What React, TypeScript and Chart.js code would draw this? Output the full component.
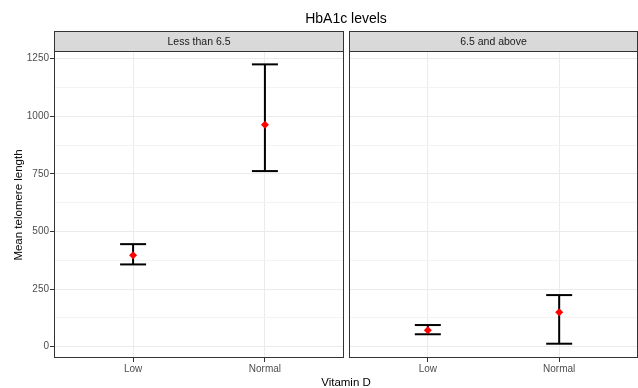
import React, { useEffect, useRef } from 'react';
import { Chart, registerables } from 'chart.js';
Chart.register(...registerables);

const FONT = "'Liberation Sans', Arial, sans-serif";

const chartTitle = 'HbA1c levels';
const panels = ['Less than 6.5', '6.5 and above'];
const categories = ['Low', 'Normal'];
const xTitle = 'Vitamin D';
const yTitle = 'Mean telomere length';

const meanLess = [397, 963];
const lowerLess = [357, 762];
const upperLess = [445, 1225];

const meanAbove = [71, 149];
const lowerAbove = [54, 13];
const upperAbove = [94, 224];

const yMajorTicks = [0, 250, 500, 750, 1000, 1250];
const yMinorTicks = [125, 375, 625, 875, 1125];
const yMin = -49;
const yMax = 1283;
const xMin = 0.4;
const xMax = 2.6;

const panelBorder = {
  id: 'panelBorder',
  afterDraw(chart: any) {
    const { ctx, chartArea: a } = chart;
    ctx.save();
    ctx.strokeStyle = '#333333';
    ctx.lineWidth = 1;
    ctx.strokeRect(a.left + 0.5, a.top + 0.5, a.right - a.left - 1, a.bottom - a.top - 1);
    ctx.restore();
  },
};

function buildConfig(means: number[], lows: number[], highs: number[], isLeft: boolean): any {
  const pts = (vals: number[]) => categories.map((_, i) => ({ x: i + 1, y: vals[i] }));
  const whisker: any[] = [];
  categories.forEach((_, i) => {
    whisker.push({ x: i + 1, y: lows[i] }, { x: i + 1, y: highs[i] }, { x: i + 1.5, y: null });
  });
  const allY = [...yMajorTicks, ...yMinorTicks].sort((a, b) => a - b);
  return {
    type: 'scatter',
    data: {
      datasets: [
        {
          label: 'mean',
          data: pts(means),
          pointStyle: 'rectRot',
          pointRadius: 4,
          pointBackgroundColor: '#FF0000',
          pointBorderColor: '#FF0000',
          pointBorderWidth: 0,
          showLine: false,
        },
        {
          label: 'upper',
          data: pts(highs),
          pointStyle: 'line',
          pointRadius: 13,
          pointBorderColor: '#000000',
          pointBorderWidth: 2,
          showLine: false,
        },
        {
          label: 'lower',
          data: pts(lows),
          pointStyle: 'line',
          pointRadius: 13,
          pointBorderColor: '#000000',
          pointBorderWidth: 2,
          showLine: false,
        },
        {
          label: 'whisker',
          type: 'line',
          data: whisker,
          showLine: true,
          spanGaps: false,
          borderColor: '#000000',
          borderWidth: 2,
          pointRadius: 0,
          fill: false,
        },
      ],
    },
    options: {
      responsive: false,
      animation: false,
      devicePixelRatio: 1,
      events: [],
      layout: {
        autoPadding: false,
        padding: isLeft
          ? { left: 0, top: 51, right: 294, bottom: 0 }
          : { left: 349, top: 51, right: 0, bottom: 0 },
      },
      plugins: { legend: { display: false }, tooltip: { enabled: false }, title: { display: false } },
      scales: {
        x: {
          type: 'linear',
          min: xMin,
          max: xMax,
          afterBuildTicks: (s: any) => {
            s.ticks = categories.map((_, i) => ({ value: i + 1 }));
          },
          afterFit: (s: any) => {
            s.height = 30;
            s.paddingLeft = 0;
            s.paddingRight = 0;
          },
          ticks: {
            callback: (v: number) => categories[Math.round(v) - 1] ?? '',
            color: '#4D4D4D',
            font: { family: FONT, size: 10 },
            padding: 1,
            maxRotation: 0,
            autoSkip: false,
          },
          grid: { color: '#EBEBEB', lineWidth: 1, tickColor: '#333333', tickLength: 4, drawTicks: true },
          border: { display: false },
        },
        y: {
          type: 'linear',
          min: yMin,
          max: yMax,
          afterBuildTicks: (s: any) => {
            s.ticks = allY.map((v) => ({ value: v }));
          },
          afterFit: (s: any) => {
            s.width = isLeft ? 54 : 0;
            s.paddingTop = 0;
            s.paddingBottom = 0;
          },
          ticks: {
            display: isLeft,
            callback: (v: number) => (yMajorTicks.includes(v) ? String(v) : ''),
            color: '#4D4D4D',
            font: { family: FONT, size: 10 },
            padding: 1,
            autoSkip: false,
          },
          grid: {
            color: (ctx: any) => (ctx.tick && yMajorTicks.includes(ctx.tick.value) ? '#EBEBEB' : '#F3F3F3'),
            lineWidth: 1,
            tickColor: (ctx: any) =>
              ctx.tick && yMajorTicks.includes(ctx.tick.value) ? '#333333' : 'rgba(0,0,0,0)',
            tickLength: 4,
            drawTicks: isLeft,
          },
          border: { display: false },
        },
      },
    },
    plugins: [panelBorder],
  };
}

export default function App() {
  const leftRef = useRef<HTMLCanvasElement>(null);
  const rightRef = useRef<HTMLCanvasElement>(null);

  useEffect(() => {
    const c1 = new Chart(leftRef.current as HTMLCanvasElement, buildConfig(meanLess, lowerLess, upperLess, true));
    const c2 = new Chart(rightRef.current as HTMLCanvasElement, buildConfig(meanAbove, lowerAbove, upperAbove, false));
    return () => {
      c1.destroy();
      c2.destroy();
    };
  }, []);

  const canvasStyle: React.CSSProperties = { position: 'absolute', left: 0, top: 0, width: 638, height: 388, display: 'block' };
  const stripStyle = (left: number, width: number): React.CSSProperties => ({
    position: 'absolute',
    left,
    top: 31,
    width,
    height: 21,
    boxSizing: 'border-box',
    border: '1px solid #333333',
    background: '#D9D9D9',
    color: '#1A1A1A',
    fontSize: 10.5,
    lineHeight: '19px',
    textAlign: 'center',
    whiteSpace: 'nowrap',
  });

  return (
    <div style={{ position: 'absolute', left: 0, top: 0, width: 638, height: 388, background: '#FFFFFF', fontFamily: FONT, overflow: 'hidden' }}>
      <canvas ref={leftRef} width={638} height={388} style={canvasStyle} />
      <canvas ref={rightRef} width={638} height={388} style={canvasStyle} />
      <div style={{ position: 'absolute', left: 54, top: 9, width: 584, lineHeight: '18px', fontSize: 14, color: '#000', textAlign: 'center' }}>
        {chartTitle}
      </div>
      <div style={stripStyle(54, 290)}>{panels[0]}</div>
      <div style={stripStyle(349, 289)}>{panels[1]}</div>
      <div style={{ position: 'absolute', left: 54, top: 375, width: 584, lineHeight: '14px', fontSize: 11.5, color: '#000', textAlign: 'center' }}>
        {xTitle}
      </div>
      <div
        style={{
          position: 'absolute',
          left: 18 - 100,
          top: 205 - 7,
          width: 200,
          height: 14,
          lineHeight: '14px',
          fontSize: 11.5,
          color: '#000',
          textAlign: 'center',
          transform: 'rotate(-90deg)',
          whiteSpace: 'nowrap',
        }}
      >
        {yTitle}
      </div>
    </div>
  );
}
